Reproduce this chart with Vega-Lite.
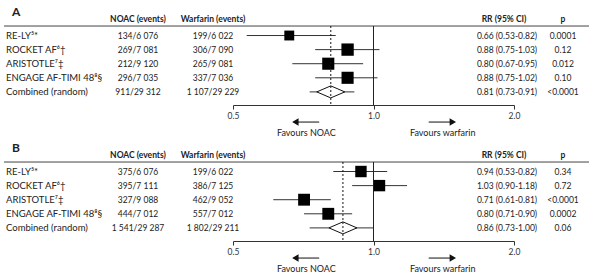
{
  "$schema": "https://vega.github.io/schema/vega-lite/v6.json",
  "padding": {"left": 3, "top": 0, "right": 0, "bottom": 0},
  "background": "white",
  "spacing": 0,
  "bounds": "full",
  "config": {
    "view": {"stroke": null},
    "font": "Lato",
    "text": {"font": "Lato", "fontSize": 8.5, "color": "#222", "baseline": "middle"},
    "axis": {"labelFont": "Lato"}
  },
  "datasets": {
    "rows": [
      {"panel": "A", "order": 1, "study": "RE-LY⁵*", "noac": "134/6 076", "warfarin": "199/6 022", "rrtxt": "0.66 (0.53-0.82)", "p": "0.0001", "rr": 0.66, "lo": 0.535, "hi": 0.83, "weight": 18, "kind": "study"},
      {"panel": "A", "order": 2, "study": "ROCKET AF⁶†", "noac": "269/7 081", "warfarin": "306/7 090", "rrtxt": "0.88 (0.75-1.03)", "p": "0.12", "rr": 0.88, "lo": 0.75, "hi": 1.03, "weight": 28, "kind": "study"},
      {"panel": "A", "order": 3, "study": "ARISTOTLE⁷‡", "noac": "212/9 120", "warfarin": "265/9 081", "rrtxt": "0.80 (0.67-0.95)", "p": "0.012", "rr": 0.8, "lo": 0.67, "hi": 0.95, "weight": 27, "kind": "study"},
      {"panel": "A", "order": 4, "study": "ENGAGE AF-TIMI 48⁸§", "noac": "296/7 035", "warfarin": "337/7 036", "rrtxt": "0.88 (0.75-1.02)", "p": "0.10", "rr": 0.88, "lo": 0.75, "hi": 1.02, "weight": 27, "kind": "study"},
      {"panel": "A", "order": 5, "study": "Combined (random)", "noac": "911/29 312", "warfarin": "1 107/29 229", "rrtxt": "0.81 (0.73-0.91)", "p": "<0.0001", "rr": 0.81, "lo": 0.73, "hi": 0.91, "weight": 0, "kind": "combined"},
      {"panel": "B", "order": 1, "study": "RE-LY⁵*", "noac": "375/6 076", "warfarin": "199/6 022", "rrtxt": "0.94 (0.53-0.82)", "p": "0.34", "rr": 0.94, "lo": 0.82, "hi": 1.07, "weight": 24, "kind": "study"},
      {"panel": "B", "order": 2, "study": "ROCKET AF⁶†", "noac": "395/7 111", "warfarin": "386/7 125", "rrtxt": "1.03 (0.90-1.18)", "p": "0.72", "rr": 1.03, "lo": 0.9, "hi": 1.18, "weight": 24, "kind": "study"},
      {"panel": "B", "order": 3, "study": "ARISTOTLE⁷‡", "noac": "327/9 088", "warfarin": "462/9 052", "rrtxt": "0.71 (0.61-0.81)", "p": "<0.0001", "rr": 0.71, "lo": 0.61, "hi": 0.81, "weight": 26, "kind": "study"},
      {"panel": "B", "order": 4, "study": "ENGAGE AF-TIMI 48⁸§", "noac": "444/7 012", "warfarin": "557/7 012", "rrtxt": "0.80 (0.71-0.90)", "p": "0.0002", "rr": 0.8, "lo": 0.71, "hi": 0.9, "weight": 26, "kind": "study"},
      {"panel": "B", "order": 5, "study": "Combined (random)", "noac": "1 541/29 287", "warfarin": "1 802/29 211", "rrtxt": "0.86 (0.73-1.00)", "p": "0.06", "rr": 0.86, "lo": 0.73, "hi": 1.0, "weight": 0, "kind": "combined"}
    ]
  },
  "data": {"name": "rows"},
  "vconcat": [
    {
      "transform": [{"filter": "datum.panel === 'A'"}],
      "spacing": 0,
      "bounds": "flush",
      "hconcat": [
        {
          "width": 79, "height": 105,
          "layer": [
            {"data": {"values": [{}]}, "mark": {"type": "rule", "color": "#444", "strokeWidth": 1}, "encoding": {"y": {"datum": 0.326, "type": "quantitative", "scale": {"domain": [-1.52, 5.93], "reverse": true, "nice": false, "zero": false}, "axis": null}}},
            {"data": {"values": [{}]}, "mark": {"type": "text", "text": "A", "align": "left", "fontSize": 12, "fontWeight": "bold", "dx": 8}, "encoding": {"x": {"datum": 0, "type": "quantitative", "scale": {"domain": [0, 1]}, "axis": null}, "y": {"datum": -0.67, "type": "quantitative", "scale": {"domain": [-1.52, 5.93], "reverse": true, "nice": false, "zero": false}, "axis": null}}},
            {"mark": {"type": "text", "align": "left", "dx": 2, "fontSize": 9.5}, "encoding": {"x": {"datum": 0, "type": "quantitative", "scale": {"domain": [0, 1]}, "axis": null}, "y": {"field": "order", "type": "quantitative", "scale": {"domain": [-1.52, 5.93], "reverse": true, "nice": false, "zero": false}, "axis": null}, "text": {"field": "study"}}}
          ]
        },
        {
          "width": 110, "height": 105,
          "layer": [
            {"data": {"values": [{}]}, "mark": {"type": "rule", "color": "#444", "strokeWidth": 1}, "encoding": {"y": {"datum": 0.326, "type": "quantitative", "scale": {"domain": [-1.52, 5.93], "reverse": true, "nice": false, "zero": false}, "axis": null}}},
            {"data": {"values": [{}]}, "mark": {"type": "text", "text": "NOAC (events)", "fontWeight": "bold", "fontSize": 8.5}, "encoding": {"y": {"datum": -0.17, "type": "quantitative", "scale": {"domain": [-1.52, 5.93], "reverse": true, "nice": false, "zero": false}, "axis": null}}},
            {"mark": {"type": "text"}, "encoding": {"y": {"field": "order", "type": "quantitative", "scale": {"domain": [-1.52, 5.93], "reverse": true, "nice": false, "zero": false}, "axis": null}, "text": {"field": "noac"}}}
          ]
        },
        {
          "width": 40, "height": 105,
          "layer": [
            {"data": {"values": [{}]}, "mark": {"type": "rule", "color": "#444", "strokeWidth": 1}, "encoding": {"y": {"datum": 0.326, "type": "quantitative", "scale": {"domain": [-1.52, 5.93], "reverse": true, "nice": false, "zero": false}, "axis": null}}},
            {"data": {"values": [{}]}, "mark": {"type": "text", "text": "Warfarin (events)", "fontWeight": "bold", "fontSize": 8.5}, "encoding": {"y": {"datum": -0.17, "type": "quantitative", "scale": {"domain": [-1.52, 5.93], "reverse": true, "nice": false, "zero": false}, "axis": null}}},
            {"mark": {"type": "text"}, "encoding": {"y": {"field": "order", "type": "quantitative", "scale": {"domain": [-1.52, 5.93], "reverse": true, "nice": false, "zero": false}, "axis": null}, "text": {"field": "warfarin"}}}
          ]
        },
        {
          "width": 245, "height": 105,
          "layer": [
            {"data": {"values": [{}]}, "mark": {"type": "rule", "color": "#444", "strokeWidth": 1}, "encoding": {"y": {"datum": 0.326, "type": "quantitative", "scale": {"domain": [-1.52, 5.93], "reverse": true, "nice": false, "zero": false}, "axis": null}}},
            {"mark": {"type": "rule", "color": "#333", "strokeWidth": 1}, "encoding": {
              "x": {"field": "lo", "type": "quantitative", "title": null, "scale": {"type": "log", "domain": [0.5, 2], "range": [0, 281], "nice": false}, "axis": {"values": [0.5, 1, 2], "format": ".1f", "tickSize": 4, "domainColor": "#333", "tickColor": "#333", "labelColor": "#333", "labelFontSize": 8.5, "labelPadding": 2, "grid": false, "title": null, "labelFlush": false}},
              "x2": {"field": "hi"},
              "y": {"field": "order", "type": "quantitative", "scale": {"domain": [-1.52, 5.93], "reverse": true, "nice": false, "zero": false}, "axis": null}}},
            {"data": {"values": [{}]}, "mark": {"type": "rule", "color": "#222", "strokeWidth": 1}, "encoding": {
              "x": {"datum": 1, "type": "quantitative", "scale": {"type": "log", "domain": [0.5, 2], "range": [0, 281], "nice": false}},
              "y": {"datum": 0.326, "type": "quantitative", "scale": {"domain": [-1.52, 5.93], "reverse": true, "nice": false, "zero": false}, "axis": null},
              "y2": {"datum": 5.93}}},
            {"transform": [{"filter": "datum.kind === 'study'"}], "mark": {"type": "point", "shape": "square", "filled": true, "color": "#000", "opacity": 1}, "encoding": {
              "x": {"field": "rr", "type": "quantitative", "title": null, "scale": {"type": "log", "domain": [0.5, 2], "range": [0, 281], "nice": false}},
              "y": {"field": "order", "type": "quantitative", "scale": {"domain": [-1.52, 5.93], "reverse": true, "nice": false, "zero": false}, "axis": null},
              "size": {"field": "weight", "type": "quantitative", "scale": {"domain": [0, 28], "range": [0, 152]}, "legend": null}}},
            {"transform": [{"filter": "datum.kind === 'combined'"}], "mark": {"type": "point", "shape": "M-1,0L0,-0.43L1,0L0,0.43Z", "filled": true, "fill": "#fff", "stroke": "#111", "strokeWidth": 1, "size": 784, "opacity": 1}, "encoding": {
              "x": {"field": "rr", "type": "quantitative", "title": null, "scale": {"type": "log", "domain": [0.5, 2], "range": [0, 281], "nice": false}},
              "y": {"field": "order", "type": "quantitative", "scale": {"domain": [-1.52, 5.93], "reverse": true, "nice": false, "zero": false}, "axis": null}}},
            {"transform": [{"filter": "datum.kind === 'combined'"}], "mark": {"type": "rule", "color": "#111", "strokeWidth": 1, "strokeDash": [2, 2]}, "encoding": {
              "x": {"field": "rr", "type": "quantitative", "title": null, "scale": {"type": "log", "domain": [0.5, 2], "range": [0, 281], "nice": false}},
              "y": {"datum": 0.326, "type": "quantitative", "scale": {"domain": [-1.52, 5.93], "reverse": true, "nice": false, "zero": false}, "axis": null},
              "y2": {"datum": 5.93}}},
            {"data": {"values": [{}]}, "mark": {"type": "rule", "color": "#111", "strokeWidth": 1}, "encoding": {
              "x": {"datum": 0.685, "type": "quantitative", "scale": {"type": "log", "domain": [0.5, 2], "range": [0, 281], "nice": false}},
              "x2": {"datum": 0.765},
              "y": {"datum": 7.14, "type": "quantitative", "scale": {"domain": [-1.52, 5.93], "reverse": true, "nice": false, "zero": false}, "axis": null}}},
            {"data": {"values": [{}]}, "mark": {"type": "rule", "color": "#111", "strokeWidth": 1}, "encoding": {
              "x": {"datum": 1.313, "type": "quantitative", "scale": {"type": "log", "domain": [0.5, 2], "range": [0, 281], "nice": false}},
              "x2": {"datum": 1.47},
              "y": {"datum": 7.14, "type": "quantitative", "scale": {"domain": [-1.52, 5.93], "reverse": true, "nice": false, "zero": false}, "axis": null}}},
            {"data": {"values": [{}]}, "mark": {"type": "point", "shape": "triangle-left", "filled": true, "color": "#111", "size": 55, "opacity": 1}, "encoding": {
              "x": {"datum": 0.68, "type": "quantitative", "scale": {"type": "log", "domain": [0.5, 2], "range": [0, 281], "nice": false}},
              "y": {"datum": 7.14, "type": "quantitative", "scale": {"domain": [-1.52, 5.93], "reverse": true, "nice": false, "zero": false}, "axis": null}}},
            {"data": {"values": [{}]}, "mark": {"type": "point", "shape": "triangle-right", "filled": true, "color": "#111", "size": 55, "opacity": 1}, "encoding": {
              "x": {"datum": 1.479, "type": "quantitative", "scale": {"type": "log", "domain": [0.5, 2], "range": [0, 281], "nice": false}},
              "y": {"datum": 7.14, "type": "quantitative", "scale": {"domain": [-1.52, 5.93], "reverse": true, "nice": false, "zero": false}, "axis": null}}},
            {"data": {"values": [{}]}, "mark": {"type": "text", "text": "Favours NOAC", "fontSize": 9}, "encoding": {
              "x": {"datum": 0.718, "type": "quantitative", "scale": {"type": "log", "domain": [0.5, 2], "range": [0, 281], "nice": false}},
              "y": {"datum": 7.92, "type": "quantitative", "scale": {"domain": [-1.52, 5.93], "reverse": true, "nice": false, "zero": false}, "axis": null}}},
            {"data": {"values": [{}]}, "mark": {"type": "text", "text": "Favours warfarin", "fontSize": 9}, "encoding": {
              "x": {"datum": 1.407, "type": "quantitative", "scale": {"type": "log", "domain": [0.5, 2], "range": [0, 281], "nice": false}},
              "y": {"datum": 7.92, "type": "quantitative", "scale": {"domain": [-1.52, 5.93], "reverse": true, "nice": false, "zero": false}, "axis": null}}}
          ]
        },
        {
          "width": 58, "height": 105,
          "layer": [
            {"data": {"values": [{}]}, "mark": {"type": "rule", "color": "#444", "strokeWidth": 1}, "encoding": {"y": {"datum": 0.326, "type": "quantitative", "scale": {"domain": [-1.52, 5.93], "reverse": true, "nice": false, "zero": false}, "axis": null}}},
            {"data": {"values": [{}]}, "mark": {"type": "text", "text": "RR (95% CI)", "fontWeight": "bold", "fontSize": 8.5, "dx": -3}, "encoding": {"y": {"datum": -0.17, "type": "quantitative", "scale": {"domain": [-1.52, 5.93], "reverse": true, "nice": false, "zero": false}, "axis": null}}},
            {"mark": {"type": "text"}, "encoding": {"y": {"field": "order", "type": "quantitative", "scale": {"domain": [-1.52, 5.93], "reverse": true, "nice": false, "zero": false}, "axis": null}, "text": {"field": "rrtxt"}}}
          ]
        },
        {
          "width": 54, "height": 105,
          "layer": [
            {"data": {"values": [{}]}, "mark": {"type": "rule", "color": "#444", "strokeWidth": 1}, "encoding": {"y": {"datum": 0.326, "type": "quantitative", "scale": {"domain": [-1.52, 5.93], "reverse": true, "nice": false, "zero": false}, "axis": null}}},
            {"data": {"values": [{}]}, "mark": {"type": "text", "text": "p", "fontWeight": "bold", "fontSize": 8.5}, "encoding": {"y": {"datum": -0.17, "type": "quantitative", "scale": {"domain": [-1.52, 5.93], "reverse": true, "nice": false, "zero": false}, "axis": null}}},
            {"mark": {"type": "text"}, "encoding": {"y": {"field": "order", "type": "quantitative", "scale": {"domain": [-1.52, 5.93], "reverse": true, "nice": false, "zero": false}, "axis": null}, "text": {"field": "p"}}}
          ]
        }
      ]
    },
    {
      "transform": [{"filter": "datum.panel === 'B'"}],
      "spacing": 0,
      "bounds": "flush",
      "hconcat": [
        {
          "width": 79, "height": 102,
          "layer": [
            {"data": {"values": [{}]}, "mark": {"type": "rule", "color": "#444", "strokeWidth": 1}, "encoding": {"y": {"datum": 0.326, "type": "quantitative", "scale": {"domain": [-1.307, 5.93], "reverse": true, "nice": false, "zero": false}, "axis": null}}},
            {"data": {"values": [{}]}, "mark": {"type": "text", "text": "B", "align": "left", "fontSize": 12, "fontWeight": "bold", "dx": 8}, "encoding": {"x": {"datum": 0, "type": "quantitative", "scale": {"domain": [0, 1]}, "axis": null}, "y": {"datum": -0.67, "type": "quantitative", "scale": {"domain": [-1.307, 5.93], "reverse": true, "nice": false, "zero": false}, "axis": null}}},
            {"mark": {"type": "text", "align": "left", "dx": 2, "fontSize": 9.5}, "encoding": {"x": {"datum": 0, "type": "quantitative", "scale": {"domain": [0, 1]}, "axis": null}, "y": {"field": "order", "type": "quantitative", "scale": {"domain": [-1.307, 5.93], "reverse": true, "nice": false, "zero": false}, "axis": null}, "text": {"field": "study"}}}
          ]
        },
        {
          "width": 110, "height": 102,
          "layer": [
            {"data": {"values": [{}]}, "mark": {"type": "rule", "color": "#444", "strokeWidth": 1}, "encoding": {"y": {"datum": 0.326, "type": "quantitative", "scale": {"domain": [-1.307, 5.93], "reverse": true, "nice": false, "zero": false}, "axis": null}}},
            {"data": {"values": [{}]}, "mark": {"type": "text", "text": "NOAC (events)", "fontWeight": "bold", "fontSize": 8.5}, "encoding": {"y": {"datum": -0.17, "type": "quantitative", "scale": {"domain": [-1.307, 5.93], "reverse": true, "nice": false, "zero": false}, "axis": null}}},
            {"mark": {"type": "text"}, "encoding": {"y": {"field": "order", "type": "quantitative", "scale": {"domain": [-1.307, 5.93], "reverse": true, "nice": false, "zero": false}, "axis": null}, "text": {"field": "noac"}}}
          ]
        },
        {
          "width": 40, "height": 102,
          "layer": [
            {"data": {"values": [{}]}, "mark": {"type": "rule", "color": "#444", "strokeWidth": 1}, "encoding": {"y": {"datum": 0.326, "type": "quantitative", "scale": {"domain": [-1.307, 5.93], "reverse": true, "nice": false, "zero": false}, "axis": null}}},
            {"data": {"values": [{}]}, "mark": {"type": "text", "text": "Warfarin (events)", "fontWeight": "bold", "fontSize": 8.5}, "encoding": {"y": {"datum": -0.17, "type": "quantitative", "scale": {"domain": [-1.307, 5.93], "reverse": true, "nice": false, "zero": false}, "axis": null}}},
            {"mark": {"type": "text"}, "encoding": {"y": {"field": "order", "type": "quantitative", "scale": {"domain": [-1.307, 5.93], "reverse": true, "nice": false, "zero": false}, "axis": null}, "text": {"field": "warfarin"}}}
          ]
        },
        {
          "width": 245, "height": 102,
          "layer": [
            {"data": {"values": [{}]}, "mark": {"type": "rule", "color": "#444", "strokeWidth": 1}, "encoding": {"y": {"datum": 0.326, "type": "quantitative", "scale": {"domain": [-1.307, 5.93], "reverse": true, "nice": false, "zero": false}, "axis": null}}},
            {"mark": {"type": "rule", "color": "#333", "strokeWidth": 1}, "encoding": {
              "x": {"field": "lo", "type": "quantitative", "title": null, "scale": {"type": "log", "domain": [0.5, 2], "range": [0, 281], "nice": false}, "axis": {"values": [0.5, 1, 2], "format": ".1f", "tickSize": 4, "domainColor": "#333", "tickColor": "#333", "labelColor": "#333", "labelFontSize": 8.5, "labelPadding": 2, "grid": false, "title": null, "labelFlush": false}},
              "x2": {"field": "hi"},
              "y": {"field": "order", "type": "quantitative", "scale": {"domain": [-1.307, 5.93], "reverse": true, "nice": false, "zero": false}, "axis": null}}},
            {"data": {"values": [{}]}, "mark": {"type": "rule", "color": "#222", "strokeWidth": 1}, "encoding": {
              "x": {"datum": 1, "type": "quantitative", "scale": {"type": "log", "domain": [0.5, 2], "range": [0, 281], "nice": false}},
              "y": {"datum": 0.326, "type": "quantitative", "scale": {"domain": [-1.307, 5.93], "reverse": true, "nice": false, "zero": false}, "axis": null},
              "y2": {"datum": 5.93}}},
            {"transform": [{"filter": "datum.kind === 'study'"}], "mark": {"type": "point", "shape": "square", "filled": true, "color": "#000", "opacity": 1}, "encoding": {
              "x": {"field": "rr", "type": "quantitative", "title": null, "scale": {"type": "log", "domain": [0.5, 2], "range": [0, 281], "nice": false}},
              "y": {"field": "order", "type": "quantitative", "scale": {"domain": [-1.307, 5.93], "reverse": true, "nice": false, "zero": false}, "axis": null},
              "size": {"field": "weight", "type": "quantitative", "scale": {"domain": [0, 26], "range": [0, 100]}, "legend": null}}},
            {"transform": [{"filter": "datum.kind === 'combined'"}], "mark": {"type": "point", "shape": "M-1,0L0,-0.43L1,0L0,0.43Z", "filled": true, "fill": "#fff", "stroke": "#111", "strokeWidth": 1, "size": 784, "opacity": 1}, "encoding": {
              "x": {"field": "rr", "type": "quantitative", "title": null, "scale": {"type": "log", "domain": [0.5, 2], "range": [0, 281], "nice": false}},
              "y": {"field": "order", "type": "quantitative", "scale": {"domain": [-1.307, 5.93], "reverse": true, "nice": false, "zero": false}, "axis": null}}},
            {"transform": [{"filter": "datum.kind === 'combined'"}], "mark": {"type": "rule", "color": "#111", "strokeWidth": 1, "strokeDash": [2, 2]}, "encoding": {
              "x": {"field": "rr", "type": "quantitative", "title": null, "scale": {"type": "log", "domain": [0.5, 2], "range": [0, 281], "nice": false}},
              "y": {"datum": 0.326, "type": "quantitative", "scale": {"domain": [-1.307, 5.93], "reverse": true, "nice": false, "zero": false}, "axis": null},
              "y2": {"datum": 5.93}}},
            {"data": {"values": [{}]}, "mark": {"type": "rule", "color": "#111", "strokeWidth": 1}, "encoding": {
              "x": {"datum": 0.685, "type": "quantitative", "scale": {"type": "log", "domain": [0.5, 2], "range": [0, 281], "nice": false}},
              "x2": {"datum": 0.765},
              "y": {"datum": 7.14, "type": "quantitative", "scale": {"domain": [-1.307, 5.93], "reverse": true, "nice": false, "zero": false}, "axis": null}}},
            {"data": {"values": [{}]}, "mark": {"type": "rule", "color": "#111", "strokeWidth": 1}, "encoding": {
              "x": {"datum": 1.313, "type": "quantitative", "scale": {"type": "log", "domain": [0.5, 2], "range": [0, 281], "nice": false}},
              "x2": {"datum": 1.47},
              "y": {"datum": 7.14, "type": "quantitative", "scale": {"domain": [-1.307, 5.93], "reverse": true, "nice": false, "zero": false}, "axis": null}}},
            {"data": {"values": [{}]}, "mark": {"type": "point", "shape": "triangle-left", "filled": true, "color": "#111", "size": 55, "opacity": 1}, "encoding": {
              "x": {"datum": 0.68, "type": "quantitative", "scale": {"type": "log", "domain": [0.5, 2], "range": [0, 281], "nice": false}},
              "y": {"datum": 7.14, "type": "quantitative", "scale": {"domain": [-1.307, 5.93], "reverse": true, "nice": false, "zero": false}, "axis": null}}},
            {"data": {"values": [{}]}, "mark": {"type": "point", "shape": "triangle-right", "filled": true, "color": "#111", "size": 55, "opacity": 1}, "encoding": {
              "x": {"datum": 1.479, "type": "quantitative", "scale": {"type": "log", "domain": [0.5, 2], "range": [0, 281], "nice": false}},
              "y": {"datum": 7.14, "type": "quantitative", "scale": {"domain": [-1.307, 5.93], "reverse": true, "nice": false, "zero": false}, "axis": null}}},
            {"data": {"values": [{}]}, "mark": {"type": "text", "text": "Favours NOAC", "fontSize": 9}, "encoding": {
              "x": {"datum": 0.718, "type": "quantitative", "scale": {"type": "log", "domain": [0.5, 2], "range": [0, 281], "nice": false}},
              "y": {"datum": 7.92, "type": "quantitative", "scale": {"domain": [-1.307, 5.93], "reverse": true, "nice": false, "zero": false}, "axis": null}}},
            {"data": {"values": [{}]}, "mark": {"type": "text", "text": "Favours warfarin", "fontSize": 9}, "encoding": {
              "x": {"datum": 1.407, "type": "quantitative", "scale": {"type": "log", "domain": [0.5, 2], "range": [0, 281], "nice": false}},
              "y": {"datum": 7.92, "type": "quantitative", "scale": {"domain": [-1.307, 5.93], "reverse": true, "nice": false, "zero": false}, "axis": null}}}
          ]
        },
        {
          "width": 58, "height": 102,
          "layer": [
            {"data": {"values": [{}]}, "mark": {"type": "rule", "color": "#444", "strokeWidth": 1}, "encoding": {"y": {"datum": 0.326, "type": "quantitative", "scale": {"domain": [-1.307, 5.93], "reverse": true, "nice": false, "zero": false}, "axis": null}}},
            {"data": {"values": [{}]}, "mark": {"type": "text", "text": "RR (95% CI)", "fontWeight": "bold", "fontSize": 8.5, "dx": -3}, "encoding": {"y": {"datum": -0.17, "type": "quantitative", "scale": {"domain": [-1.307, 5.93], "reverse": true, "nice": false, "zero": false}, "axis": null}}},
            {"mark": {"type": "text"}, "encoding": {"y": {"field": "order", "type": "quantitative", "scale": {"domain": [-1.307, 5.93], "reverse": true, "nice": false, "zero": false}, "axis": null}, "text": {"field": "rrtxt"}}}
          ]
        },
        {
          "width": 54, "height": 102,
          "layer": [
            {"data": {"values": [{}]}, "mark": {"type": "rule", "color": "#444", "strokeWidth": 1}, "encoding": {"y": {"datum": 0.326, "type": "quantitative", "scale": {"domain": [-1.307, 5.93], "reverse": true, "nice": false, "zero": false}, "axis": null}}},
            {"data": {"values": [{}]}, "mark": {"type": "text", "text": "p", "fontWeight": "bold", "fontSize": 8.5}, "encoding": {"y": {"datum": -0.17, "type": "quantitative", "scale": {"domain": [-1.307, 5.93], "reverse": true, "nice": false, "zero": false}, "axis": null}}},
            {"mark": {"type": "text"}, "encoding": {"y": {"field": "order", "type": "quantitative", "scale": {"domain": [-1.307, 5.93], "reverse": true, "nice": false, "zero": false}, "axis": null}, "text": {"field": "p"}}}
          ]
        }
      ]
    }
  ]
}
